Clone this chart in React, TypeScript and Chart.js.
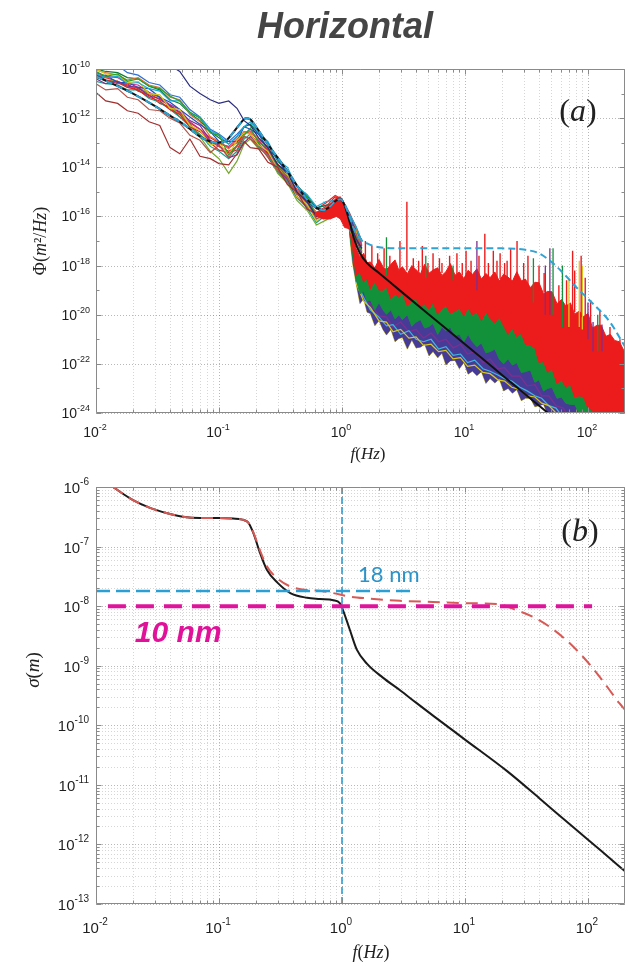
import React, { useEffect, useRef } from 'react';
import { Chart, registerables } from 'chart.js';

Chart.register(...registerables);

const SANS = '"Liberation Sans", Arial, Helvetica, sans-serif';
const SERIF = '"Liberation Serif", "Times New Roman", serif';

// ---------------- axes / tick labels ----------------
const xTickExps = [-2, -1, 0, 1, 2];
const yTickExpsA = [-10, -12, -14, -16, -18, -20, -22, -24];
const yMinorExpsA = [-11, -13, -15, -17, -19, -21, -23];
const yTickExpsB = [-6, -7, -8, -9, -10, -11, -12, -13];

// ---------------- panel (a): PSD, values are log10(Phi) ----------------
const lfFreq = [0.01, 0.012, 0.015, 0.018, 0.022, 0.027, 0.033, 0.04, 0.048, 0.058, 0.07, 0.085, 0.1, 0.12, 0.14, 0.16, 0.18, 0.21, 0.25, 0.3, 0.36, 0.43, 0.52, 0.62, 0.74, 0.88, 1.0, 1.15, 1.3, 1.45];
const lfNavy = [-9.0, -9.1, -9.2, -9.3, -9.45, -9.6, -9.7, -9.85, -10.1, -10.7, -11.0, -11.25, -11.4, -11.3, -11.6, -12.1, -12.3, -12.8, -13.2, -13.9, -14.2, -15.0, -15.4, -16.0, -15.8, -15.5, -15.7, -16.2, -16.9, -17.3];
const lfMaroon = [-10.95, -11.3, -11.4, -11.7, -11.8, -12.15, -12.3, -13.2, -13.45, -12.85, -13.55, -13.65, -13.85, -13.9, -13.45, -12.95, -13.2, -13.25, -13.8, -14.0, -14.7, -15.0, -15.7, -15.9, -16.0, -15.6, -15.9, -16.2, -17.0, -17.3];
const lfBrown = [-10.6, -10.85, -10.8, -11.15, -11.25, -11.65, -11.7, -12.0, -12.2, -12.7, -12.9, -13.4, -13.1, -13.6, -13.15, -12.75, -12.85, -13.2, -13.5, -14.1, -14.4, -15.1, -15.4, -16.1, -15.8, -15.7, -15.6, -16.3, -16.7, -17.3];
const lfGreen = [-10.1, -10.3, -10.2, -10.5, -10.4, -10.7, -10.8, -11.1, -11.3, -11.75, -12.0, -12.6, -12.7, -13.5, -13.1, -12.7, -12.4, -13.0, -13.2, -13.95, -14.4, -15.1, -15.2, -16.0, -15.8, -15.8, -15.6, -16.4, -16.8, -17.4];
const lfCyan = [-10.2, -10.35, -10.3, -10.6, -10.55, -10.8, -10.9, -11.3, -11.3, -11.8, -11.95, -12.5, -12.7, -13.05, -12.75, -12.35, -12.15, -12.6, -12.95, -13.7, -14.0, -14.8, -15.1, -15.6, -15.4, -15.35, -15.3, -15.9, -16.4, -17.0];
const lfYellow = [-10.0, -10.2, -10.25, -10.55, -10.5, -11.0, -11.05, -11.6, -11.65, -12.3, -12.5, -13.1, -13.0, -13.5, -12.9, -12.6, -12.65, -13.1, -13.35, -14.1, -14.3, -15.2, -15.5, -16.2, -15.8, -15.9, -15.8, -16.3, -16.6, -17.4];
const lfPurple = [-10.4, -10.6, -10.5, -10.7, -10.75, -11.1, -11.2, -11.5, -11.75, -12.1, -12.3, -12.9, -13.1, -13.6, -13.5, -13.0, -12.75, -13.1, -13.4, -14.1, -14.5, -15.2, -15.5, -16.1, -16.0, -15.9, -15.7, -16.5, -16.9, -17.5];
const lfBlue = [-10.3, -10.25, -10.55, -10.55, -10.75, -10.8, -11.15, -11.35, -11.65, -11.95, -12.25, -12.55, -12.95, -12.95, -12.95, -12.35, -12.45, -12.65, -13.25, -13.65, -14.35, -14.75, -15.45, -15.65, -15.75, -15.45, -15.65, -15.95, -16.65, -16.95];
const lfOrange = [-10.05, -10.15, -10.25, -10.45, -10.35, -10.65, -10.75, -11.15, -11.25, -11.85, -12.15, -12.75, -12.95, -13.25, -12.85, -12.55, -12.55, -12.85, -13.15, -13.95, -14.35, -14.95, -15.35, -15.85, -15.65, -15.55, -15.55, -16.05, -16.45, -17.05];
const lfRed = [-10.2, -10.45, -10.55, -10.75, -10.85, -11.15, -11.3, -11.65, -11.85, -12.35, -12.55, -12.95, -13.15, -13.35, -13.15, -12.55, -12.65, -13.05, -13.45, -14.05, -14.45, -15.05, -15.45, -15.85, -15.6, -15.2, -15.4, -15.95, -16.55, -17.05];
const lfRed2 = [-10.25, -10.35, -10.5, -10.65, -10.8, -11.0, -11.25, -11.5, -11.8, -12.2, -12.45, -12.8, -13.0, -13.2, -13.0, -12.6, -12.55, -12.9, -13.3, -13.85, -14.35, -14.9, -15.35, -15.7, -15.45, -15.15, -15.3, -15.85, -16.45, -17.0];
const lfRed3 = [-10.3, -10.45, -10.6, -10.6, -10.9, -11.05, -11.4, -11.55, -11.95, -12.25, -12.7, -13.0, -13.3, -13.4, -13.3, -12.75, -12.85, -13.1, -13.6, -14.2, -14.6, -15.2, -15.6, -16.0, -15.75, -15.45, -15.55, -16.1, -16.7, -17.2];
const lfTeal = [-10.5, -10.6, -10.65, -10.85, -10.85, -11.2, -11.35, -11.65, -11.95, -12.35, -12.65, -13.15, -13.35, -13.65, -13.35, -12.85, -12.65, -13.15, -13.55, -14.15, -14.55, -15.25, -15.65, -16.25, -15.95, -15.75, -15.75, -16.35, -16.85, -17.45];
const lfMagenta = [-10.15, -10.3, -10.35, -10.6, -10.65, -10.95, -11.15, -11.45, -11.65, -12.15, -12.45, -12.95, -13.05, -13.15, -12.85, -12.65, -12.45, -12.95, -13.35, -13.95, -14.35, -15.05, -15.45, -15.85, -15.75, -15.55, -15.55, -16.15, -16.65, -17.15];
const lfOlive = [-10.35, -10.45, -10.5, -10.75, -10.75, -11.0, -11.15, -11.55, -11.85, -12.25, -12.75, -13.35, -13.65, -14.25, -13.75, -13.05, -12.85, -13.25, -13.45, -14.25, -14.65, -15.35, -15.75, -16.35, -16.15, -15.95, -15.95, -16.55, -17.05, -17.55];
const lfDkGreen = [-10.0, -10.1, -10.15, -10.35, -10.4, -10.7, -10.85, -11.25, -11.4, -11.8, -12.1, -12.55, -12.8, -13.05, -12.75, -12.35, -12.25, -12.65, -13.05, -13.75, -14.15, -14.75, -15.15, -15.65, -15.55, -15.45, -15.45, -15.95, -16.55, -17.05];
const lfBlue2 = [-9.6, -9.75, -9.85, -10.15, -10.25, -10.55, -10.65, -11.05, -11.15, -11.65, -11.95, -12.45, -12.65, -12.95, -12.65, -12.35, -12.25, -12.65, -13.05, -13.65, -14.15, -14.75, -15.25, -15.65, -15.55, -15.45, -15.45, -15.95, -16.45, -17.05];

// red mass on the ~1 Hz peak
const bumpFreq = [0.6, 0.7, 0.8, 0.9, 0.97, 1.05, 1.15];
const bumpUpper = [-15.85, -15.75, -15.5, -15.25, -15.2, -15.5, -16.3];
const bumpLower = [-15.95, -16.1, -16.1, -16.0, -16.1, -16.45, -16.5];

const hfFreq = [1.15, 1.22, 1.3, 1.4, 1.5, 1.6, 1.7, 1.85, 2.0, 2.15, 2.3, 2.5, 2.7, 2.9, 3.1, 3.4, 3.7, 4.0, 4.35, 4.7, 5.1, 5.5, 6.0, 6.5, 7.0, 7.6, 8.3, 9.0, 9.8, 10.6, 11.5, 12.5, 13.6, 14.8, 16, 17.5, 19, 20.6, 22.4, 24.3, 26.4, 28.7, 31, 34, 37, 40, 43.5, 47, 51, 56, 61, 66, 72, 78, 85, 92, 100, 109, 118, 128, 140, 152, 165, 180, 200];
const redUpper = [-16.3, -16.8, -17.3, -17.65, -17.5, -17.9, -17.85, -18.1, -17.75, -18.04, -18.17, -17.95, -17.77, -18.19, -18.05, -18.33, -18.0, -18.17, -18.33, -17.95, -18.31, -18.18, -18.09, -18.4, -18.25, -17.92, -18.39, -18.26, -18.53, -18.19, -18.36, -18.13, -18.55, -18.32, -18.49, -18.26, -18.63, -18.35, -18.47, -18.63, -18.25, -18.62, -18.55, -18.9, -18.68, -18.7, -19.15, -19.05, -19.07, -19.55, -19.38, -19.65, -19.52, -19.98, -19.85, -20.08, -19.95, -20.55, -20.43, -20.43, -20.88, -20.8, -21.05, -21.1, -21.55];
const redLower = [-16.5, -17.3, -18.4, -18.28, -18.67, -18.55, -18.95, -18.65, -19.0, -19.0, -18.87, -19.35, -19.15, -19.3, -19.13, -19.65, -19.43, -19.35, -19.7, -19.56, -19.77, -19.5, -19.98, -19.75, -19.62, -19.94, -19.86, -19.73, -20.05, -19.72, -20.01, -19.9, -20.24, -19.88, -20.15, -20.35, -20.1, -20.45, -20.8, -20.55, -20.9, -20.75, -21.2, -21.25, -21.35, -21.95, -21.9, -22.35, -22.2, -22.8, -22.65, -22.95, -22.85, -23.35, -23.3, -23.35, -23.8, -23.9, -24.2, -24.6, -24.6, -24.6, -24.6, -24.6, -24.6];
const greenUpper = [-16.4, -17.0, -17.9, -17.98, -18.07, -18.15, -18.25, -18.35, -18.45, -18.55, -18.62, -18.7, -18.75, -18.8, -18.83, -18.9, -18.98, -19.05, -19.1, -19.16, -19.22, -19.25, -19.28, -19.3, -19.32, -19.34, -19.36, -19.38, -19.4, -19.42, -19.46, -19.5, -19.54, -19.58, -19.65, -19.75, -19.85, -19.95, -20.1, -20.2, -20.35, -20.45, -20.6, -20.8, -21.1, -21.3, -21.5, -21.75, -21.9, -22.1, -22.25, -22.4, -22.55, -22.7, -22.85, -23.05, -23.2, -23.5, -23.8, -24.0, -24.1, -24.2, -24.3, -24.4, -24.5];
const greenLower = [-16.6, -17.6, -18.5, -19.15, -19.05, -19.45, -19.4, -19.8, -19.5, -19.8, -19.98, -19.8, -20.17, -20.0, -20.2, -20.0, -20.47, -20.3, -20.2, -20.54, -20.48, -20.35, -20.8, -20.5, -20.65, -20.5, -20.87, -20.78, -21.1, -20.8, -21.1, -21.3, -21.15, -21.55, -21.5, -21.4, -21.8, -22.0, -21.8, -22.05, -21.95, -22.35, -22.32, -22.25, -22.75, -22.65, -23.1, -23.0, -22.95, -23.4, -23.35, -23.6, -23.65, -23.65, -24.0, -23.95, -24.2, -24.6, -24.6, -24.6, -24.6, -24.6, -24.6, -24.6, -24.6];
const bandLower = [-16.7, -17.9, -18.7, -19.55, -19.35, -19.9, -19.95, -20.45, -20.25, -20.6, -20.83, -20.6, -21.1, -20.97, -20.93, -21.4, -21.03, -21.35, -21.32, -21.2, -21.68, -21.5, -21.75, -21.57, -22.05, -21.88, -21.86, -22.2, -21.95, -22.42, -22.3, -22.48, -22.32, -22.8, -22.6, -22.78, -22.62, -23.1, -23.0, -23.2, -23.05, -23.5, -23.4, -23.4, -23.75, -23.7, -23.65, -24.05, -24.1, -24.6, -24.6, -24.6, -24.6, -24.6, -24.6, -24.6, -24.6, -24.6, -24.6, -24.6, -24.6, -24.6, -24.6, -24.6, -24.6];

const innerFreq = [1.3, 1.5, 1.7, 2.0, 2.3, 2.6, 3.0, 3.5, 4.0, 4.6, 5.3, 6.1, 7.0, 8.0, 9.2, 10.5, 12, 14, 16, 18.5, 21, 24, 28, 32, 37, 42, 48, 55, 63, 72];
const innerPurple = [-18.6, -19.4, -19.55, -20.05, -20.1, -20.5, -20.3, -20.7, -20.6, -20.95, -20.75, -21.1, -21.0, -21.35, -21.2, -21.6, -21.5, -21.95, -21.8, -22.2, -22.15, -22.5, -22.5, -22.9, -22.85, -23.3, -23.3, -23.7, -23.8, -24.3];
const innerCyan = [-18.65, -19.3, -19.8, -20.1, -20.45, -20.4, -20.8, -20.65, -21.0, -21.1, -21.0, -21.4, -21.3, -21.65, -21.6, -21.95, -21.85, -22.2, -22.3, -22.45, -22.6, -22.7, -22.95, -23.1, -23.3, -23.4, -23.7, -23.8, -24.2, -24.4];
const innerYellow = [-18.7, -19.45, -19.7, -20.25, -20.3, -20.7, -20.6, -20.95, -20.9, -21.25, -21.2, -21.5, -21.45, -21.8, -21.75, -22.1, -22.05, -22.35, -22.4, -22.65, -22.7, -22.95, -23.05, -23.3, -23.35, -23.6, -23.7, -24.0, -24.2, -24.5];

const redSpikeF = [1.55, 1.75, 1.95, 2.2, 2.45, 2.96, 3.37, 3.8, 4.2, 4.5, 5.0, 5.5, 6.2, 6.5, 7.5, 8.6, 9.5, 10.2, 11.2, 13, 14.5, 15.5, 17, 18.2, 19.3, 21, 22, 23.5, 26.5, 30, 32.5, 40, 44, 58, 67, 75, 78, 88, 95, 105, 125, 151, 182];
const redSpikeBase = [-17.8, -18.0, -18.0, -18.05, -18.1, -18.15, -18.2, -18.2, -18.25, -18.25, -18.25, -18.3, -18.3, -18.3, -18.3, -18.35, -18.4, -18.4, -18.4, -18.45, -18.45, -18.5, -18.5, -18.5, -18.55, -18.55, -18.6, -18.6, -18.6, -18.7, -18.75, -19.0, -19.1, -19.5, -19.7, -19.8, -19.9, -20.1, -20.2, -20.4, -20.6, -21.0, -21.3];
const redSpikePeak = [-17.0, -17.2, -17.5, -17.3, -17.6, -17.0, -15.4, -17.7, -17.8, -17.2, -17.9, -17.5, -17.7, -17.9, -17.6, -17.5, -17.9, -17.4, -17.8, -17.6, -16.7, -17.9, -17.4, -17.8, -17.5, -17.9, -17.8, -17.3, -17.0, -17.9, -17.6, -18.0, -18.3, -18.8, -18.6, -17.4, -18.2, -17.6, -18.5, -19.4, -19.8, -20.5, -21.0];
const greenSpikeF = [2.3, 4.8, 8, 36, 52, 62, 120];
const greenSpikeBase = [-18.4, -18.5, -18.6, -19.5, -20.0, -20.5, -21.5];
const greenSpikePeak = [-16.85, -17.6, -18.0, -17.7, -17.3, -18.0, -20.0];
const purpleSpikeF = [12.5, 45, 49, 100, 110, 130];
const purpleSpikeBase = [-19.0, -20.0, -20.0, -21.0, -21.5, -21.5];
const purpleSpikePeak = [-17.0, -18.0, -17.3, -19.5, -20.3, -20.4];
const yellowSpikeF = [70, 85, 90];
const yellowSpikeBase = [-20.5, -20.5, -20.6];
const yellowSpikePeak = [-18.5, -17.8, -18.0];

const modelFreq = [0.01, 0.015, 0.02, 0.03, 0.04, 0.05, 0.06, 0.07, 0.085, 0.1, 0.115, 0.13, 0.15, 0.165, 0.18, 0.2, 0.23, 0.27, 0.32, 0.4, 0.5, 0.6, 0.7, 0.8, 0.9, 0.97, 1.05, 1.15, 1.25, 1.4, 1.6, 2, 3, 5, 10, 20, 50];
const modelPsd = [-10.3, -10.7, -11.0, -11.5, -11.9, -12.2, -12.5, -12.75, -12.95, -13.0, -12.9, -12.6, -12.2, -12.0, -12.05, -12.35, -12.8, -13.3, -13.8, -14.5, -15.2, -15.6, -15.75, -15.6, -15.35, -15.3, -15.55, -16.2, -16.9, -17.5, -17.9, -18.3, -19.04, -19.96, -21.2, -22.45, -24.1];
const noiseModelFreq = [0.01, 0.015, 0.02, 0.03, 0.04, 0.05, 0.06, 0.07, 0.085, 0.1, 0.115, 0.13, 0.15, 0.165, 0.18, 0.2, 0.23, 0.27, 0.32, 0.4, 0.5, 0.6, 0.7, 0.8, 0.9, 0.97, 1.05, 1.15, 1.25, 1.4, 1.6, 2, 3, 5, 10, 20, 30, 40, 49, 60, 81, 100, 151, 200];
const noiseModelPsd = [-10.3, -10.7, -11.0, -11.5, -11.9, -12.2, -12.5, -12.75, -12.95, -13.0, -12.9, -12.6, -12.2, -12.0, -12.05, -12.35, -12.8, -13.3, -13.8, -14.5, -15.2, -15.6, -15.75, -15.6, -15.35, -15.3, -15.5, -16.0, -16.5, -16.9, -17.1, -17.25, -17.3, -17.3, -17.3, -17.3, -17.35, -17.5, -17.8, -18.2, -18.9, -19.35, -20.3, -21.3];

// ---------------- panel (b): cumulative rms, values are log10(sigma) ----------------
const sigFreq = [0.0137, 0.02, 0.0275, 0.038, 0.051, 0.07, 0.1, 0.13, 0.17, 0.19, 0.215, 0.245, 0.3, 0.38, 0.52, 0.66, 0.85, 0.96, 1.02, 1.16, 1.32, 1.6, 2.15, 3, 4, 5.6, 10, 22, 40, 70, 130, 200];
const sigModel = [-6.0, -6.22, -6.35, -6.44, -6.5, -6.52, -6.52, -6.53, -6.58, -6.77, -7.1, -7.39, -7.61, -7.78, -7.86, -7.88, -7.9, -7.95, -8.07, -8.4, -8.73, -8.97, -9.2, -9.42, -9.62, -9.85, -10.24, -10.77, -11.22, -11.65, -12.12, -12.45];
const sigNoiseFreq = [0.0137, 0.02, 0.0275, 0.038, 0.051, 0.07, 0.1, 0.13, 0.17, 0.19, 0.215, 0.245, 0.3, 0.38, 0.52, 0.66, 0.845, 1.16, 1.6, 2.96, 5.5, 10.3, 19.1, 26.4, 35.7, 49, 66.6, 91, 125, 180, 200];
const sigNoise = [-6.0, -6.22, -6.35, -6.44, -6.5, -6.52, -6.52, -6.53, -6.58, -6.76, -7.06, -7.33, -7.54, -7.67, -7.73, -7.74, -7.78, -7.84, -7.87, -7.91, -7.93, -7.95, -7.97, -8.07, -8.18, -8.35, -8.57, -8.85, -9.19, -9.63, -9.74];
const line18Freq = [0.01, 3.9];
const line18Sig = [-7.745, -7.745];
const line10Freq = [0.0125, 108];
const line10Sig = [-8, -8];
const vlineFreq = [1, 1];
const vlineSig = [-6, -13];

// ---------------- helpers ----------------
const E = (e: number) => Math.pow(10, e);
const toPts = (f: number[], e: number[]) => f.map((x, i) => ({ x, y: E(e[i]) }));
const spikePts = (f: number[], b: number[], p: number[]) =>
  f.flatMap((x, i) => [{ x, y: E(b[i]) }, { x, y: E(p[i]) }, { x, y: null as any }]);

function drawRich(ctx: CanvasRenderingContext2D, parts: [string, string][], cx: number, cy: number, size: number, family: string, color: string, rotate: boolean, baseline: CanvasTextBaseline) {
  ctx.save();
  ctx.fillStyle = color;
  ctx.textAlign = 'left';
  ctx.textBaseline = baseline;
  const fonts = parts.map(([, st]) => `${st} ${size}px ${family}`);
  let total = 0;
  const ws = parts.map(([t], i) => { ctx.font = fonts[i]; const w = ctx.measureText(t).width; total += w; return w; });
  ctx.translate(cx, cy);
  if (rotate) ctx.rotate(-Math.PI / 2);
  let x = -total / 2;
  parts.forEach(([t], i) => { ctx.font = fonts[i]; ctx.fillText(t, x, 0); x += ws[i]; });
  ctx.restore();
}

function drawPow(ctx: CanvasRenderingContext2D, exp: number, x: number, y: number, align: string, size: number, supSize: number, supRaise: number) {
  const base = '10';
  const sup = String(exp);
  ctx.font = `${size}px ${SANS}`;
  const wb = ctx.measureText(base).width;
  ctx.font = `${supSize}px ${SANS}`;
  const wsup = ctx.measureText(sup).width;
  const total = wb + wsup;
  const x0 = align === 'right' ? x - total : x - total / 2;
  ctx.textAlign = 'left';
  ctx.textBaseline = 'alphabetic';
  ctx.fillStyle = '#1e1e1e';
  ctx.font = `${size}px ${SANS}`;
  ctx.fillText(base, x0, y);
  ctx.font = `${supSize}px ${SANS}`;
  ctx.fillText(sup, x0 + wb, y - supRaise);
}

interface PanelCfg {
  yLabelExps: number[];
  yMinorTickExps: number[];
  ySubGrid: boolean;
  tickSize: number;
  supSize: number;
  supRaise: number;
  xLabelDy: number;
  yLabelGap: number;
  yLabelDy: number;
  extra: (chart: any) => void;
}

const GRID_MAJOR = 'rgba(0,0,0,0.28)';
const GRID_MINOR = 'rgba(0,0,0,0.16)';
const AXIS = '#8a8a8a';

function axesPlugin(cfg: PanelCfg) {
  return {
    id: 'matlabAxes',
    beforeDatasetsDraw(chart: any) {
      const { ctx, chartArea: a, scales } = chart;
      const xs = scales.x, ys = scales.y;
      ctx.save();
      ctx.lineWidth = 1;
      ctx.setLineDash([1, 2]);
      const vline = (v: number, c: string) => {
        const p = Math.round(xs.getPixelForValue(v)) + 0.5;
        ctx.strokeStyle = c; ctx.beginPath(); ctx.moveTo(p, a.top); ctx.lineTo(p, a.bottom); ctx.stroke();
      };
      const hline = (v: number, c: string) => {
        const p = Math.round(ys.getPixelForValue(v)) + 0.5;
        ctx.strokeStyle = c; ctx.beginPath(); ctx.moveTo(a.left, p); ctx.lineTo(a.right, p); ctx.stroke();
      };
      xTickExps.forEach((d) => { for (let k = 2; k <= 9; k++) { const v = k * E(d); if (v < xs.max) vline(v, GRID_MINOR); } });
      xTickExps.forEach((d) => vline(E(d), GRID_MAJOR));
      if (cfg.ySubGrid) cfg.yLabelExps.forEach((d) => { for (let k = 2; k <= 9; k++) { const v = k * E(d); if (v < ys.max * 0.999) hline(v, GRID_MINOR); } });
      cfg.yLabelExps.forEach((d) => hline(E(d), GRID_MAJOR));
      ctx.restore();
    },
    afterDatasetsDraw(chart: any) {
      const { ctx, chartArea: a, scales } = chart;
      const xs = scales.x, ys = scales.y;
      const L = Math.round(a.left) + 0.5, R = Math.round(a.right) - 0.5;
      const T = Math.round(a.top) + 0.5, B = Math.round(a.bottom) - 0.5;
      ctx.save();
      ctx.setLineDash([]);
      ctx.strokeStyle = AXIS;
      ctx.lineWidth = 1;
      ctx.beginPath();
      ctx.rect(L, T, R - L, B - T);
      ctx.stroke();
      const xt = (v: number, len: number) => {
        const p = Math.round(xs.getPixelForValue(v)) + 0.5;
        ctx.beginPath(); ctx.moveTo(p, B); ctx.lineTo(p, B - len); ctx.moveTo(p, T); ctx.lineTo(p, T + len); ctx.stroke();
      };
      const yt = (v: number, len: number) => {
        const p = Math.round(ys.getPixelForValue(v)) + 0.5;
        ctx.beginPath(); ctx.moveTo(L, p); ctx.lineTo(L + len, p); ctx.moveTo(R, p); ctx.lineTo(R - len, p); ctx.stroke();
      };
      xTickExps.forEach((d) => { xt(E(d), 5); for (let k = 2; k <= 9; k++) { const v = k * E(d); if (v < xs.max) xt(v, 3); } });
      cfg.yLabelExps.forEach((d) => {
        yt(E(d), 5);
        if (cfg.ySubGrid) for (let k = 2; k <= 9; k++) { const v = k * E(d); if (v < ys.max * 0.999) yt(v, 3); }
      });
      cfg.yMinorTickExps.forEach((d) => yt(E(d), 3));
      xTickExps.forEach((d) => {
        drawPow(ctx, d, xs.getPixelForValue(E(d)) - 1, a.bottom + cfg.xLabelDy, 'center', cfg.tickSize, cfg.supSize, cfg.supRaise);
      });
      cfg.yLabelExps.forEach((d) => {
        drawPow(ctx, d, a.left - cfg.yLabelGap, ys.getPixelForValue(E(d)) + cfg.yLabelDy, 'right', cfg.tickSize, cfg.supSize, cfg.supRaise);
      });
      cfg.extra(chart);
      ctx.restore();
    },
  };
}

// ---------------- colours ----------------
const RED = '#ec1c1c';
const GREEN = '#12913a';
const BAND_BLUE = '#463c98';

function lineDs(data: any[], color: string, width: number, order: number, extra: any = {}) {
  return { data, borderColor: color, backgroundColor: color, borderWidth: width, pointRadius: 0, fill: false, order, ...extra };
}

function buildA(): any {
  const lf: [number[], string][] = [
    [lfNavy, '#2b2d7e'], [lfMaroon, '#a2302f'], [lfBrown, '#b5544a'], [lfGreen, '#2ca02c'],
    [lfCyan, '#19a9d8'], [lfYellow, '#d6c41c'], [lfPurple, '#7e2f8e'], [lfBlue, '#1f50c0'],
    [lfOrange, '#e0702a'], [lfRed, '#e8201a'], [lfTeal, '#139f8c'], [lfMagenta, '#c2308f'],
    [lfOlive, '#78a830'], [lfDkGreen, '#0b7a3b'], [lfBlue2, '#3070d0'], [lfRed2, '#ee2222'], [lfRed3, '#d8231f'],
  ];
  const datasets: any[] = [
    lineDs(toPts(hfFreq, redUpper), RED, 1, 13, { fill: '+1' }),
    lineDs(toPts(hfFreq, redLower), RED, 1, 13),
    lineDs(toPts(hfFreq, greenUpper), GREEN, 1, 15, { fill: '+1' }),
    lineDs(toPts(hfFreq, greenLower), GREEN, 1, 15),
    lineDs(toPts(hfFreq, greenUpper), BAND_BLUE, 1, 20, { fill: '+1' }),
    lineDs(toPts(hfFreq, bandLower), '#c9b81e', 1, 20),
    lineDs(toPts(bumpFreq, bumpUpper), RED, 1, 8, { fill: '+1' }),
    lineDs(toPts(bumpFreq, bumpLower), RED, 1, 8),
    lineDs(toPts(innerFreq, innerPurple), '#7e2f8e', 1.2, 18),
    lineDs(toPts(innerFreq, innerCyan), '#3fb6e0', 1.2, 17),
    lineDs(toPts(innerFreq, innerYellow), '#d8c81e', 1.2, 16),
    lineDs(spikePts(greenSpikeF, greenSpikeBase, greenSpikePeak), GREEN, 1.3, 12),
    lineDs(spikePts(purpleSpikeF, purpleSpikeBase, purpleSpikePeak), '#7e2f8e', 1.3, 12),
    lineDs(spikePts(yellowSpikeF, yellowSpikeBase, yellowSpikePeak), '#d8c81e', 1.3, 12),
    lineDs(spikePts(redSpikeF, redSpikeBase, redSpikePeak), RED, 1.4, 11),
    ...lf.map(([v, c]) => lineDs(toPts(lfFreq, v), c, 1.2, 9)),
    lineDs(toPts(modelFreq, modelPsd), '#111111', 2, 2, { cubicInterpolationMode: 'monotone' }),
    lineDs(toPts(noiseModelFreq, noiseModelPsd), '#2ea3d5', 2, 1, { cubicInterpolationMode: 'monotone', borderDash: [7, 4] }),
  ];
  const cfg: PanelCfg = {
    yLabelExps: yTickExpsA,
    yMinorTickExps: yMinorExpsA,
    ySubGrid: false,
    tickSize: 14, supSize: 9, supRaise: 7,
    xLabelDy: 24, yLabelGap: 6, yLabelDy: 5,
    extra: (chart: any) => {
      const { ctx, chartArea: a } = chart;
      ctx.save();
      ctx.fillStyle = '#454545';
      ctx.font = `italic bold 36px ${SANS}`;
      ctx.textAlign = 'center';
      ctx.textBaseline = 'alphabetic';
      ctx.fillText('Horizontal', 345, 38);
      ctx.restore();
      drawRich(ctx, [['(', 'normal'], ['a', 'italic'], [')', 'normal']], a.right - 47, a.top + 44, 32, SERIF, '#222', false, 'middle');
      drawRich(ctx, [['f', 'italic'], ['(', 'normal'], ['Hz', 'italic'], [')', 'normal']], 368, a.bottom + 46, 17, SERIF, '#222', false, 'alphabetic');
      drawRich(ctx, [['Φ(', 'normal'], ['m', 'italic'], ['²/', 'normal'], ['Hz', 'italic'], [')', 'normal']], 41, (a.top + a.bottom) / 2, 18, SERIF, '#222', true, 'middle');
    },
  };
  return {
    type: 'line',
    data: { datasets },
    options: {
      animation: false,
      responsive: false,
      devicePixelRatio: 1,
      layout: { padding: { left: 96, right: 3, top: 69, bottom: 57 } },
      plugins: { legend: { display: false }, tooltip: { enabled: false } },
      elements: { point: { radius: 0 }, line: { tension: 0 } },
      scales: {
        x: { type: 'logarithmic', min: 0.01, max: 200, grid: { display: false }, border: { display: false }, ticks: { display: false, callback: () => '' }, afterFit: (s: any) => { s.height = 0; } },
        y: { type: 'logarithmic', min: 1e-24, max: 1e-10, grid: { display: false }, border: { display: false }, ticks: { display: false, callback: () => '' }, afterFit: (s: any) => { s.width = 0; } },
      },
    },
    plugins: [axesPlugin(cfg)],
  };
}

function buildB(): any {
  const datasets: any[] = [
    lineDs(toPts(line10Freq, line10Sig), '#e0149a', 4, 0, { borderDash: [18, 10] }),
    lineDs(toPts(line18Freq, line18Sig), '#2a9fd6', 2.5, 1, { borderDash: [14, 6] }),
    lineDs(toPts(vlineFreq, vlineSig), '#2a9fd6', 1.6, 1, { borderDash: [7, 3] }),
    lineDs(toPts(sigNoiseFreq, sigNoise), '#d65a55', 2, 2, { cubicInterpolationMode: 'monotone', borderDash: [12, 7] }),
    lineDs(toPts(sigFreq, sigModel), '#1a1a1a', 2, 3, { cubicInterpolationMode: 'monotone' }),
  ];
  const cfg: PanelCfg = {
    yLabelExps: yTickExpsB,
    yMinorTickExps: [],
    ySubGrid: true,
    tickSize: 15, supSize: 10, supRaise: 8,
    xLabelDy: 29, yLabelGap: 7, yLabelDy: 6,
    extra: (chart: any) => {
      const { ctx, chartArea: a, scales } = chart;
      const xs = scales.x, ys = scales.y;
      drawRich(ctx, [['(', 'normal'], ['b', 'italic'], [')', 'normal']], a.right - 45, a.top + 46, 32, SERIF, '#222', false, 'middle');
      drawRich(ctx, [['f', 'italic'], ['(', 'normal'], ['Hz', 'italic'], [')', 'normal']], 371, a.bottom + 54, 18, SERIF, '#222', false, 'alphabetic');
      drawRich(ctx, [['σ', 'italic'], ['(', 'normal'], ['m', 'italic'], [')', 'normal']], 34, 200, 19, SERIF, '#222', true, 'middle');
      ctx.save();
      ctx.textAlign = 'left';
      ctx.textBaseline = 'alphabetic';
      ctx.fillStyle = '#2a93c9';
      ctx.font = `22px Lato, ${SANS}`;
      ctx.fillText('18 nm', xs.getPixelForValue(1.35), ys.getPixelForValue(E(line18Sig[0])) - 9);
      ctx.fillStyle = '#e0129a';
      ctx.font = `italic bold 30px ${SANS}`;
      ctx.fillText('10 nm', xs.getPixelForValue(0.0207), ys.getPixelForValue(E(line10Sig[0])) + 36);
      ctx.restore();
    },
  };
  return {
    type: 'line',
    data: { datasets },
    options: {
      animation: false,
      responsive: false,
      devicePixelRatio: 1,
      layout: { padding: { left: 96, right: 3, top: 17, bottom: 62 } },
      plugins: { legend: { display: false }, tooltip: { enabled: false } },
      elements: { point: { radius: 0 }, line: { tension: 0 } },
      scales: {
        x: { type: 'logarithmic', min: 0.01, max: 200, grid: { display: false }, border: { display: false }, ticks: { display: false, callback: () => '' }, afterFit: (s: any) => { s.height = 0; } },
        y: { type: 'logarithmic', min: 1e-13, max: 1e-6, grid: { display: false }, border: { display: false }, ticks: { display: false, callback: () => '' }, afterFit: (s: any) => { s.width = 0; } },
      },
    },
    plugins: [axesPlugin(cfg)],
  };
}

export default function App() {
  const refA = useRef<HTMLCanvasElement>(null);
  const refB = useRef<HTMLCanvasElement>(null);
  useEffect(() => {
    const ca = new Chart(refA.current as HTMLCanvasElement, buildA());
    const cb = new Chart(refB.current as HTMLCanvasElement, buildB());
    return () => { ca.destroy(); cb.destroy(); };
  }, []);
  return (
    <div style={{ position: 'absolute', left: 0, top: 0, width: 628, height: 966, background: '#ffffff', overflow: 'hidden' }}>
      <canvas ref={refA} width={628} height={470} style={{ position: 'absolute', left: 0, top: 0, width: 628, height: 470 }} />
      <canvas ref={refB} width={628} height={496} style={{ position: 'absolute', left: 0, top: 470, width: 628, height: 496 }} />
    </div>
  );
}
